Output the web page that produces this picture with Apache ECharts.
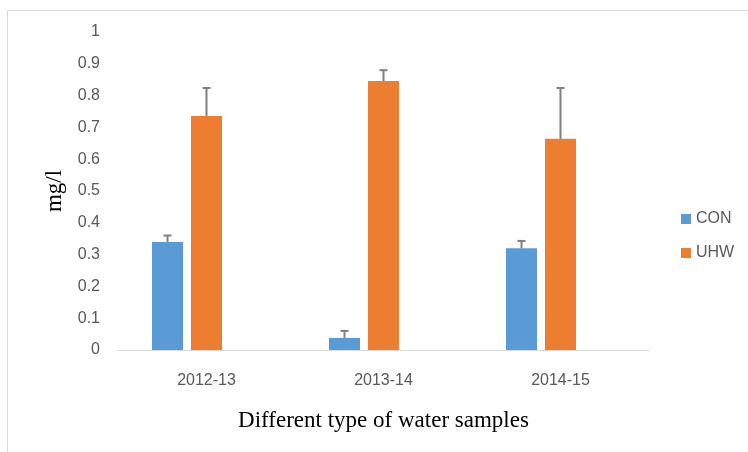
<!DOCTYPE html>
<html><head><meta charset="utf-8">
<script src="https://cdn.jsdelivr.net/npm/echarts@6/dist/echarts.min.js"></script>
<style>html,body{margin:0;padding:0;background:#fff}#c{width:748px;height:452px}</style>
</head><body><div id="c"></div>
<script>
const categories = ['2012-13', '2013-14', '2014-15'];
const conValues = [0.34, 0.038, 0.32];
const uhwValues = [0.736, 0.846, 0.664];
const conErrors = [0.02, 0.022, 0.023];
const uhwErrors = [0.088, 0.034, 0.16];
const yTicks = [0, 0.1, 0.2, 0.3, 0.4, 0.5, 0.6, 0.7, 0.8, 0.9, 1];

const BAR_W = 31, BAR_GAP = 8;
// slot index relative to the category centre: CON = -1, UHW = 0, (empty third slot = +1)
function errSeries(vals, errs, slot) {
  return {
    type: 'custom', silent: true, z: 10,
    data: vals.map((v, i) => [i, v, v + errs[i]]),
    renderItem: function (params, api) {
      const base = api.coord([api.value(0), api.value(1)]);
      const top = api.coord([api.value(0), api.value(2)]);
      const x = base[0] + slot * (BAR_W + BAR_GAP);
      const style = { stroke: '#7f7f7f', lineWidth: 2 };
      return { type: 'group', children: [
        { type: 'line', shape: { x1: x, y1: base[1], x2: x, y2: top[1] }, style: style },
        { type: 'line', shape: { x1: x - 4, y1: top[1], x2: x + 4, y2: top[1] }, style: style }
      ]};
    }
  };
}

const chart = echarts.init(document.getElementById('c'));
chart.setOption({
  animation: false,
  graphic: [{ type: 'rect', shape: { x: 7.5, y: 10.5, width: 760, height: 460 }, style: { fill: 'none', stroke: '#d9d9d9', lineWidth: 1 } }],
  grid: { left: 118, right: 99, top: 32, bottom: 102 },
  legend: {
    orient: 'vertical', left: 676, top: 206, itemGap: 18, itemWidth: 10, itemHeight: 10,
    icon: 'rect', textStyle: { color: '#595959', fontSize: 16, fontFamily: 'Liberation Sans' },
    data: ['CON', 'UHW']
  },
  xAxis: {
    type: 'category', data: categories,
    name: 'Different type of water samples', nameLocation: 'middle', nameGap: 59, nameMoveOverlap: false,
    nameTextStyle: { fontFamily: 'Liberation Serif', fontSize: 23, color: '#000' },
    axisLine: { lineStyle: { color: '#d9d9d9' } }, axisTick: { show: false },
    axisLabel: { color: '#595959', fontSize: 16, fontFamily: 'Liberation Sans', margin: 23 }
  },
  yAxis: {
    type: 'value', min: 0, max: 1, interval: 0.1,
    name: 'mg/l', nameLocation: 'middle', nameGap: 52, nameMoveOverlap: false,
    nameTextStyle: { fontFamily: 'Liberation Serif', fontSize: 23, color: '#000' },
    splitLine: { show: false }, axisLine: { show: false }, axisTick: { show: false },
    axisLabel: { color: '#595959', fontSize: 16, fontFamily: 'Liberation Sans', margin: 18,
      formatter: v => { const t = yTicks.find(x => Math.abs(x - v) < 1e-9); return t === undefined ? '' : String(t); } }
  },
  series: [
    { name: 'CON', type: 'bar', data: conValues, barWidth: BAR_W, barGap: (BAR_GAP / BAR_W * 100) + '%', itemStyle: { color: '#5b9bd5' } },
    { name: 'UHW', type: 'bar', data: uhwValues, barWidth: BAR_W, itemStyle: { color: '#ed7d31' } },
    { name: 'blank', type: 'bar', data: [], barWidth: BAR_W },
    errSeries(conValues, conErrors, -1),
    errSeries(uhwValues, uhwErrors, 0)
  ]
});
</script></body></html>
